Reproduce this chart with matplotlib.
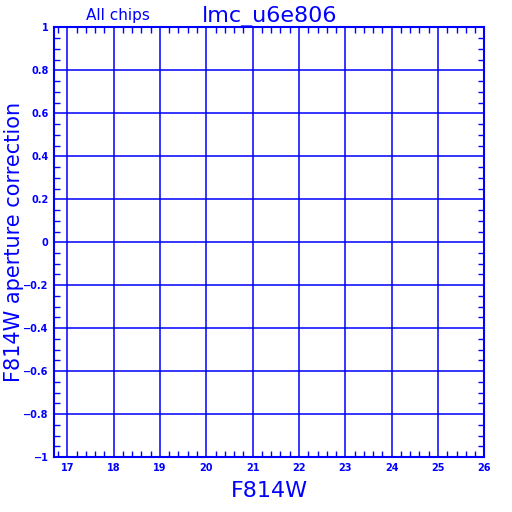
import numpy as np
import matplotlib
matplotlib.use("Agg")
import matplotlib.pyplot as plt
from matplotlib.ticker import MultipleLocator

# axis settings
x_ticks = [17, 18, 19, 20, 21, 22, 23, 24, 25, 26]
y_ticks = [1, 0.8, 0.6, 0.4, 0.2, 0, -0.2, -0.4, -0.6, -0.8, -1]
y_tick_labels = ["1", "0.8", "0.6", "0.4", "0.2", "0", "\u22120.2", "\u22120.4",
                 "\u22120.6", "\u22120.8", "\u22121"]
x_range = (16.72, 26)
y_range = (-1, 1)

blue = "#0000ff"

fig = plt.figure(figsize=(5.12, 5.12), dpi=100)
ax = fig.add_axes([0.106, 0.1074, 0.840, 0.8389])

ax.set_xlim(*x_range)
ax.set_ylim(*y_range)
ax.set_xticks(x_ticks)
ax.set_xticklabels([str(t) for t in x_ticks])
ax.set_yticks(y_ticks)
ax.set_yticklabels(y_tick_labels)
ax.xaxis.set_minor_locator(MultipleLocator(0.2))
ax.yaxis.set_minor_locator(MultipleLocator(0.05))

ax.grid(True, which="major", color=blue, linewidth=1.1)
ax.tick_params(which="major", length=0, colors=blue, labelsize=7, pad=4)
ax.tick_params(which="minor", direction="in", length=4.5, width=1, color=blue,
               top=True, right=True, bottom=True, left=True)
for lbl in ax.get_xticklabels() + ax.get_yticklabels():
    lbl.set_fontweight("bold")
for s in ax.spines.values():
    s.set_color(blue)
    s.set_linewidth(1.5)

ax.set_xlabel("F814W", fontsize=16, color=blue, labelpad=6)
fig.text(0.028, 0.527, "F814W aperture correction", fontsize=15, color=blue,
         rotation=90, ha="center", va="center")

fig.text(0.527, 0.968, "lmc_u6e806", fontsize=16, color=blue, ha="center", va="center")
fig.text(0.230, 0.970, "All chips", fontsize=11, color=blue, ha="center", va="center")

fig.savefig("out.png", dpi=100)
